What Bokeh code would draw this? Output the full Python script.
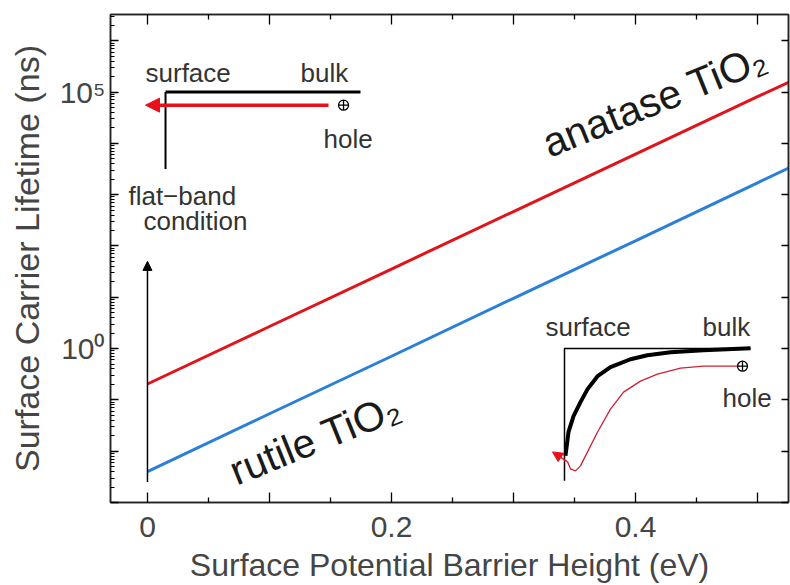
from bokeh.plotting import figure
from bokeh.models import (FixedTicker, LinearAxis, LogAxis, Label, Arrow,
                          NormalHead, Range1d)
from bokeh.embed import file_html
from bokeh.resources import INLINE

# ---------------- data ----------------
barrier_ev = [0.0, 0.1, 0.2, 0.3, 0.4, 0.5, 0.53]
anatase_ns = [0.204, 2.69, 35.5, 468, 6170, 81300, 174000]
rutile_ns = [0.00398, 0.0537, 0.708, 9.55, 126, 1700, 3720]

x_major = [0.0, 0.1, 0.2, 0.3, 0.4, 0.5]
x_minor = [0.05, 0.15, 0.25, 0.35, 0.45]
x_tick_labels = ["0", "", "0.2", "", "0.4", ""]

y_exponents = [-3, -2, -1, 0, 1, 2, 3, 4, 5, 6]
y_tick_labels = ["", "", "", "10\u2070", "", "", "", "", "10\u2075", ""]

# inset schematics (eV, log10 ns)
flat_band_x = [0.1746, 0.0148, 0.0148]
flat_band_logy = [5.0, 5.0, 3.5]
bent_frame_x = [0.4943, 0.3418, 0.3418]
bent_frame_logy = [0.0, 0.0, -2.577]
bent_band_x = [0.3426, 0.3451, 0.3492, 0.3549, 0.3607, 0.3689, 0.3795,
               0.3959, 0.4098, 0.4287, 0.4557, 0.4943]
bent_band_logy = [-2.091, -1.625, -1.315, -1.043, -0.790, -0.538, -0.363,
                  -0.208, -0.130, -0.072, -0.033, 0.006]
hole_path_x = [0.3443, 0.3467, 0.3508, 0.3549, 0.3607, 0.3689, 0.3795,
               0.3902, 0.4041, 0.4180, 0.4369, 0.4557, 0.4836]
hole_path_logy = [-2.208, -2.344, -2.383, -2.286, -2.014, -1.625, -1.179,
                  -0.849, -0.635, -0.499, -0.382, -0.344, -0.344]
hole_marks_x = [0.1607, 0.4877]
hole_marks_logy = [4.744, -0.344]

FONT = "Liberation Sans"
GRAY = "#454545"
FRAME = "#222222"

p = figure(width=790, height=585, output_backend="svg", toolbar_location=None,
           x_range=Range1d(-0.0303, 0.5254), y_range=Range1d(1e-3, 3.24e6),
           y_axis_type="log", min_border_left=110, min_border_right=2,
           min_border_top=14, min_border_bottom=81,
           background_fill_color="white", border_fill_color="white")
p.xgrid.visible = False
p.ygrid.visible = False
p.outline_line_color = FRAME
p.outline_line_width = 1.5

y_decades = [10.0 ** e for e in y_exponents]
y_minor = [m * 10.0 ** e for e in y_exponents for m in range(2, 10)]

# bottom axis
xa = p.xaxis[0]
xa.ticker = FixedTicker(ticks=x_major, minor_ticks=x_minor)
xa.major_label_overrides = {t: s for t, s in zip(x_major, x_tick_labels)}
xa.axis_label = "Surface Potential Barrier Height (eV)"
xa.axis_label_text_font = FONT
xa.axis_label_text_font_size = "32px"
xa.axis_label_text_font_style = "normal"
xa.axis_label_text_color = GRAY
xa.axis_label_standoff = 7
xa.major_label_text_font = FONT
xa.major_label_text_font_size = "30px"
xa.major_label_text_color = GRAY
xa.major_label_standoff = 14
xa.major_tick_in = 10
xa.major_tick_out = 0
xa.minor_tick_in = 5
xa.minor_tick_out = 0
xa.axis_line_width = 1.5
xa.axis_line_color = FRAME
xa.major_tick_line_width = 1.3
xa.minor_tick_line_width = 1.3

# left axis
ya = p.yaxis[0]
ya.ticker = FixedTicker(ticks=y_decades, minor_ticks=y_minor)
ya.major_label_overrides = {t: s for t, s in zip(y_decades, y_tick_labels)}
ya.axis_label = "Surface Carrier Lifetime (ns)"
ya.axis_label_text_font = FONT
ya.axis_label_text_font_size = "34px"
ya.axis_label_text_font_style = "normal"
ya.axis_label_text_color = GRAY
ya.axis_label_standoff = 11
ya.major_label_text_font = FONT
ya.major_label_text_font_size = "30px"
ya.major_label_text_color = GRAY
ya.major_label_standoff = 5
ya.major_tick_in = 8
ya.major_tick_out = 0
ya.minor_tick_in = 4
ya.minor_tick_out = 0
ya.axis_line_width = 1.5
ya.axis_line_color = FRAME
ya.major_tick_line_width = 1.3
ya.minor_tick_line_width = 1.0

# mirrored top and right axes (ticks only)
top = LinearAxis(ticker=FixedTicker(ticks=x_major, minor_ticks=x_minor),
                 major_label_overrides={t: "" for t in x_major},
                 major_label_text_font_size="4px", major_label_standoff=0,
                 major_tick_in=10, major_tick_out=0, minor_tick_in=5,
                 minor_tick_out=0, axis_line_width=1.5, axis_line_color=FRAME,
                 major_tick_line_width=1.3, minor_tick_line_width=1.3)
p.add_layout(top, "above")
right = LogAxis(ticker=FixedTicker(ticks=y_decades, minor_ticks=[]),
                major_label_overrides={t: "" for t in y_decades},
                major_label_text_font_size="4px", major_label_standoff=0,
                major_tick_in=7, major_tick_out=0, minor_tick_in=0,
                minor_tick_out=0, axis_line_width=1.5, axis_line_color=FRAME,
                major_tick_line_width=1.3)
p.add_layout(right, "right")

# main curves
p.line(barrier_ev, anatase_ns, line_color="#e0141c", line_width=3)
p.line(barrier_ev, rutile_ns, line_color="#2a7fd8", line_width=3)

# flat-band reference arrow at zero barrier
p.add_layout(Arrow(end=NormalHead(size=9, fill_color="black", line_color="black"),
                   x_start=0.0, y_start=0.0025, x_end=0.0, y_end=50,
                   line_color="black", line_width=1.5))

# curve labels
p.add_layout(Label(x=0.3254, y=10 ** 3.967, text="anatase TiO\u2082", angle=22,
                   angle_units="deg", text_font=FONT, text_font_size="41px",
                   text_color="#1a1a1a", text_baseline="alphabetic"))
p.add_layout(Label(x=0.0689, y=10 ** -2.421, text="rutile TiO\u2082", angle=22,
                   angle_units="deg", text_font=FONT, text_font_size="41px",
                   text_color="#1a1a1a", text_baseline="alphabetic"))

# inset 1: flat band
p.line(flat_band_x[:2], [10 ** v for v in flat_band_logy[:2]],
       line_color="black", line_width=3)
p.line(flat_band_x[1:], [10 ** v for v in flat_band_logy[1:]],
       line_color="black", line_width=2)
p.add_layout(Arrow(end=NormalHead(size=14, fill_color="#e8101a", line_color="#e8101a"),
                   x_start=0.1484, y_start=10 ** 4.744, x_end=-0.0016,
                   y_end=10 ** 4.744, line_color="#e8101a", line_width=3.5))

# inset 2: band bending
p.line(bent_frame_x, [10 ** v for v in bent_frame_logy],
       line_color="black", line_width=1.5)
p.line(bent_band_x, [10 ** v for v in bent_band_logy],
       line_color="black", line_width=4)
p.line(hole_path_x, [10 ** v for v in hole_path_logy],
       line_color="#cc2233", line_width=1.3)
p.add_layout(Arrow(end=NormalHead(size=10, fill_color="#e8101a", line_color="#e8101a"),
                   x_start=0.3443, y_start=10 ** -2.208, x_end=0.3320,
                   y_end=10 ** -2.014, line_color="#e8101a", line_width=1.3))

p.scatter(hole_marks_x, [10 ** v for v in hole_marks_logy], marker="circle_cross",
          size=10, fill_color="white", line_color="black", line_width=1.3)

inset_texts = [
    (-0.0016, 5.38, "surface"), (0.1254, 5.38, "bulk"), (0.1443, 4.08, "hole"),
    (-0.0156, 2.97, "flat\u2212band"), (-0.0033, 2.49, "condition"),
    (0.3262, 0.43, "surface"), (0.4549, 0.43, "bulk"), (0.4713, -0.97, "hole"),
]
for tx, tly, tt in inset_texts:
    p.add_layout(Label(x=tx, y=10 ** tly, text=tt, text_font=FONT,
                       text_font_size="26px", text_color="#333333",
                       text_baseline="alphabetic"))

open("out.html", "w").write(file_html(p, INLINE))
